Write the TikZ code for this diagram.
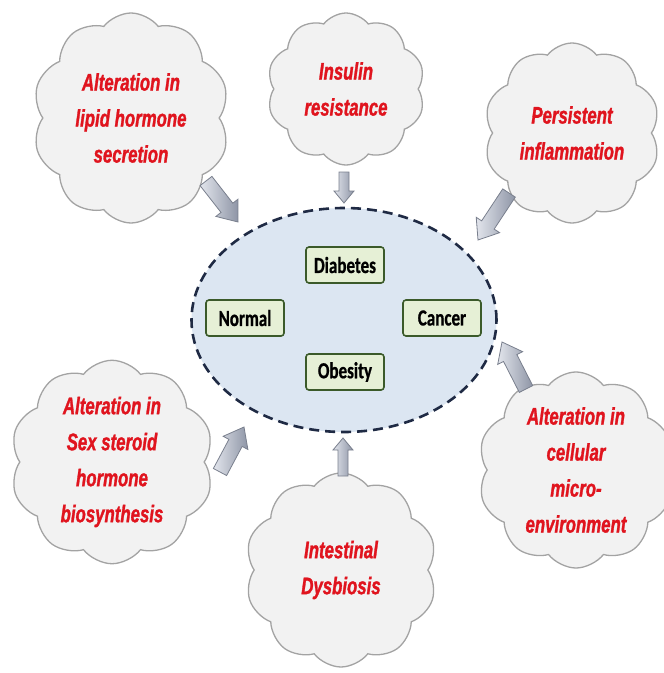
\documentclass[tikz,border=0pt]{standalone}
\usepackage{fontspec}
\usepackage{xcolor}
\usepackage{tikz}
\usetikzlibrary{arrows.meta, positioning, calc, shapes.geometric, shapes.symbols}
\newfontfamily\cloudfont[FakeStretch=0.7, FakeBold=1.2]{Liberation Sans Bold Italic}
\newfontfamily\boxfont[FakeStretch=0.74, FakeBold=0.8]{Carlito Bold}
\definecolor{cloudred}{HTML}{E0141E}
\definecolor{cloudfill}{HTML}{F2F2F2}
\definecolor{cloudline}{HTML}{A3A3A3}
\definecolor{corefill}{HTML}{DCE6F2}
\definecolor{coreline}{HTML}{1F2A44}
\definecolor{boxfill}{HTML}{E6F0D6}
\definecolor{boxline}{HTML}{3B5A2A}
\definecolor{arrlight}{HTML}{E2E5EC}
\definecolor{arrdark}{HTML}{8E95A6}
\newcommand{\blockarrow}[5]{%
  \path ($(#2)!#5!(#1)$) coordinate (hb);
  \draw[blockarr] ($(#1)!#3!90:(#2)$) -- ($(hb)!#3!90:(#2)$) -- ($(hb)!#4!90:(#2)$)
    -- (#2) -- ($(hb)!#4!-90:(#2)$) -- ($(hb)!#3!-90:(#2)$) -- ($(#1)!#3!-90:(#2)$) -- cycle;}

\begin{document}
\begin{tikzpicture}[x=1pt, y=-1pt,
  cause/.style={cloud, cloud puffs=10, cloud puff arc=105, aspect=1, draw=cloudline, line width=1.3pt,
    fill=cloudfill, inner sep=0pt, align=center, text=cloudred,
    font=\cloudfont\fontsize{24}{36}\selectfont},
  state/.style={draw=boxline, line width=1.6pt, fill=boxfill, rounded corners=3pt,
    minimum width=78pt, minimum height=36pt, inner sep=0pt,
    font=\boxfont\fontsize{23}{26}\selectfont},
  blockarr/.style={draw=arrdark!85!black, line width=0.8pt, left color=arrlight, right color=arrdark}]
  \useasboundingbox (0,0) rectangle (664,673);

  \node[ellipse, draw=coreline, fill=corefill, line width=2.6pt, dash pattern=on 10pt off 6pt,
    minimum width=305pt, minimum height=224pt] (core) at (344,320) {};
  \node[state] (diabetes) at (345,265) {Diabetes};
  \node[state] (normal) at (245,318) {Normal};
  \node[state] (cancer) at (442,318) {Cancer};
  \node[state] (obesity) at (345,372) {Obesity};

  \node[cause, minimum width=197pt, minimum height=210pt] (lipid) at (131,118) {Alteration in\\lipid hormone\\secretion};
  \node[cause, minimum width=158pt, minimum height=152pt] (insulin) at (346,89) {Insulin\\resistance};
  \node[cause, minimum width=176pt, minimum height=180pt] (inflam) at (572,133) {Persistent\\inflammation};
  \node[cause, minimum width=201pt, minimum height=195pt] (steroid) at (112,462) {Alteration in\\Sex steroid\\hormone\\biosynthesis};
  \node[cause, minimum width=192pt, minimum height=194pt] (dysbio) at (341,570) {Intestinal\\Dysbiosis};
  \node[cause, minimum width=173pt, minimum height=195pt] (cellular) at (576,470) {Alteration in\\cellular\\micro-\\environment};

  \coordinate (lipidT) at (206,181);   \coordinate (lipidH) at (238,222);
  \coordinate (insulinT) at (344,172); \coordinate (insulinH) at (344,203);
  \coordinate (inflamT) at (509,193);  \coordinate (inflamH) at (478,240);
  \coordinate (steroidT) at (220,472); \coordinate (steroidH) at (244,427);
  \coordinate (dysbioT) at (343,476);  \coordinate (dysbioH) at (343,438);
  \coordinate (cellT) at (526,389);    \coordinate (cellH) at (502,342);

  \blockarrow{lipidT}{lipidH}{7.5pt}{14pt}{18pt}
  \blockarrow{insulinT}{insulinH}{5pt}{10pt}{12pt}
  \blockarrow{inflamT}{inflamH}{7.5pt}{14pt}{18pt}
  \blockarrow{steroidT}{steroidH}{7.5pt}{14pt}{18pt}
  \blockarrow{dysbioT}{dysbioH}{5pt}{10pt}{12pt}
  \blockarrow{cellT}{cellH}{7.5pt}{14pt}{18pt}
\end{tikzpicture}
\end{document}
